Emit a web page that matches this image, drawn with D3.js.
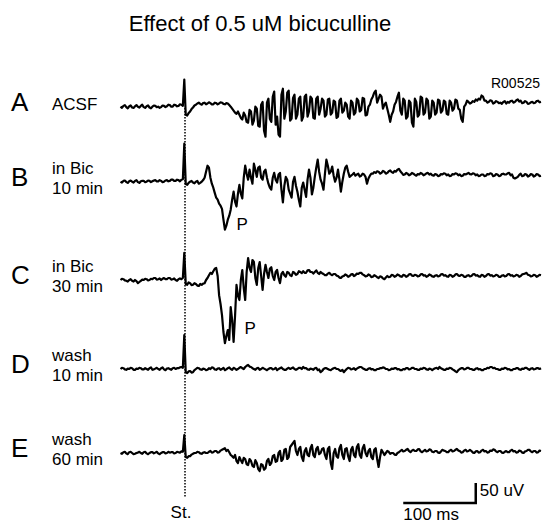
<!DOCTYPE html>
<html>
<head>
<meta charset="utf-8">
<script src="https://cdn.jsdelivr.net/npm/d3@7"></script>
<style>
  body { margin: 0; background: #fff; }
  svg { display: block; font-family: "Liberation Sans", Arial, sans-serif; }
</style>
</head>
<body>
<svg id="chart" width="542" height="530"></svg>
<script>
"use strict"

// sweep sampling (ms, stimulus at 0)
var sampleStart = -88,
    sampleStep = 2,
    sampleCount = 291;

var traceNames = ["A", "B", "C", "D", "E"];
var traceLabels = [["ACSF"], ["in Bic", "10 min"], ["in Bic", "30 min"], ["wash", "10 min"], ["wash", "60 min"]];

// field potentials, uV relative to pre-stimulus level
var traceA = [
    0, -3, 2, 4, -1, -4, 1, 3, -2, -3,
    1, 4, 0, -2, 2, 5, -1, -3, 1, 3,
    -2, -4, 0, 3, 2, -1, 0, -3, -1, 3,
    2, -1, 1, 5, 4, 0, 0, 5, 4, 1,
    2, 6, 5, 2, 68, -20, -22, -16, -12, -6,
    -2, 3, 5, 8, 10, 7, 5, 9, 10, 6,
    8, 11, 9, 6, 6, 10, 9, 6, 8, 11,
    10, 7, 6, 9, 8, 4, 0, -5, -10, -15,
    -18, -12, -20, -28, -32, -15, -22, -38, -40, -8,
    -12, -45, -35, 0, -5, -48, -50, 5, 12, -60,
    -75, 10, 20, -30, -38, 25, 38, -45, -25, -70,
    -75, 30, 45, -30, -12, 35, 40, -35, -30, 22,
    30, -30, -20, 20, 25, -35, -25, 25, 30, -25,
    -12, 25, 20, -28, -30, 20, 25, -20, -5, 20,
    15, -25, -20, 18, 20, -20, -15, 15, 12, -28,
    -25, 15, 20, -15, -10, 10, 5, -25, -30, 15,
    10, -20, -15, 20, 15, -12, -8, 22, 20, -22,
    -20, 0, 5, 18, 25, 35, 40, 10, 20, 30,
    25, -5, 5, 10, -5, -20, -38, -20, -12, 5,
    12, 25, 35, -10, -20, 20, 15, -30, -25, 15,
    10, -40, -50, 20, 12, -25, -20, 25, 22, -20,
    -15, 20, 15, -30, -25, 15, 10, -20, -15, 18,
    15, -15, -10, 15, 12, -18, -20, 15, 10, -10,
    -5, 18, 15, -5, -8, -30, -38, 0, 5, 15,
    12, 8, 10, 14, 12, 18, 15, 20, 18, 28,
    25, 15, 15, 10, 12, 16, 15, 8, 10, 14,
    12, 9, 10, 7, 12, 14, 8, 12, 10, 14,
    15, 10, 12, 16, 18, 13, 15, 9, 10, 14,
    12, 7, 8, 11, 12, 9, 10, 14, 15, 11,
    12];

var traceB = [
    0, -2, 2, 3, -1, -3, 1, 3, 0, -2,
    2, 4, -1, -3, 1, 2, 2, -1, 0, 3,
    2, -1, 1, 3, 4, 1, 1, 4, 2, -1,
    0, 3, 4, 1, 2, 5, 5, 2, 2, 5,
    4, 1, 5, 6, 95, -6, -8, -3, 0, 2,
    -2, -4, 0, 2, -5, -3, 0, 4, 10, 25,
    40, 35, 10, -5, -15, -28, -40, -45, -55, -60,
    -68, -95, -120, -110, -95, -85, -70, -45, -25, -50,
    -62, -30, -8, -30, -42, 10, 40, 20, 5, 30,
    10, -5, 45, 30, 12, 35, 38, 10, 5, 25,
    30, 10, -5, -15, -20, 10, 22, 5, -2, 18,
    22, -20, -52, -10, 12, 5, -20, -30, -40, 0,
    12, -10, -25, -45, -62, -15, -2, -20, -38, 5,
    30, 10, -32, -15, 12, 35, 55, 25, 5, -5,
    -20, 20, 55, 40, 20, 25, 38, 15, 0, 10,
    30, 5, -25, 0, 20, 35, 40, 25, 12, 15,
    18, 22, 15, 18, 20, 13, 15, 20, 18, 12,
    -5, 8, 15, 20, 20, 24, 22, 26, 25, 20,
    22, 27, 25, 20, 22, 26, 28, 24, 22, 27,
    25, 30, 32, 26, 22, 17, 18, 22, 20, 16,
    18, 22, 20, 17, 15, 19, 18, 22, 20, 16,
    18, 21, 22, 18, 20, 16, 15, 19, 18, 14,
    15, 19, 18, 21, 20, 16, 18, 14, 15, 19,
    18, 21, 20, 16, 18, 14, 15, 19, 18, 20,
    22, 19, 18, 21, 20, 16, 18, 14, 15, 18,
    18, 14, 15, 19, 18, 21, 20, 14, 15, 19,
    18, 14, 15, 19, 20, 18, 18, 21, 22, 16,
    18, 10, 8, 10, 12, 17, 20, 14, 15, 19,
    18, 13, 15, 19, 18, 13, 15, 19, 18, 14,
    15];

var traceC = [
    0, 3, 2, -1, -2, -4, 0, 2, -2, -4,
    0, -3, -8, -5, -2, 1, 0, 3, 2, -1,
    0, 3, 2, 5, 5, 1, 2, 4, 0, 3,
    5, 2, 2, 5, 5, 1, 2, 4, 0, -2,
    2, 4, 2, 5, 68, -10, -12, -6, -8, -13,
    -12, -8, -10, -14, -15, -10, -12, -9, -8, 0,
    5, 12, 18, 15, 22, 28, 30, 10, -38, -60,
    -88, -130, -158, -140, -125, -150, -68, -100, -155, -90,
    -12, -40, -50, 0, 25, -20, -50, 20, 55, 30,
    20, 50, 45, 5, -12, 30, 45, 10, -25, 15,
    38, 20, 5, 28, 32, 10, 0, 20, 25, 5,
    -8, 15, 20, 12, 8, 20, 18, 12, 10, 20,
    18, 13, 15, 22, 20, 17, 22, 18, 18, 24,
    25, 20, 20, 16, 20, 24, 18, 15, 20, 17,
    15, 12, 12, 16, 18, 14, 12, 15, 15, 11,
    10, 6, 5, 9, 10, 14, 12, 8, 10, 14,
    15, 10, 12, 16, 15, 18, 18, 14, 12, 9,
    10, 14, 12, 7, 8, 12, 10, 7, 5, 9,
    8, 4, 2, 6, 10, 7, 8, 13, 12, 8,
    10, 14, 12, 9, 8, 13, 12, 8, 10, 14,
    15, 11, 10, 13, 12, 9, 10, 14, 15, 11,
    12, 8, 10, 14, 12, 9, 8, 11, 12, 9,
    10, 14, 15, 11, 12, 9, 8, 13, 12, 8,
    10, 14, 15, 11, 10, 13, 12, 8, 8, 11,
    12, 9, 10, 14, 15, 11, 12, 9, 8, 13,
    12, 8, 10, 14, 15, 11, 12, 9, 10, 13,
    12, 8, 8, 11, 12, 9, 10, 14, 15, 11,
    12, 9, 10, 13, 12, 8, 10, 14, 15, 16,
    18, 13, 12, 9, 10, 13, 12, 8, 10, 13,
    12];

var traceD = [
    0, 3, 2, -1, -2, 1, 0, 3, 2, -2,
    -2, 1, 0, 3, 2, -1, -1, 2, 0, -2,
    2, 4, -2, -1, 1, 3, 0, -2, 2, 4,
    -1, -3, 1, 2, 0, -2, 2, 3, 0, 2,
    2, 4, 5, 3, 85, -8, -10, -6, -5, -9,
    -8, -3, 0, 3, 2, -1, -2, 1, 0, -3,
    -2, 2, 0, 4, 3, -1, -2, 1, 2, -2,
    0, 3, -3, -1, 2, 4, 0, -2, 3, 1,
    -2, 0, 3, 5, 2, 0, 5, 8, 10, 6,
    5, 2, 0, -2, 2, 3, -2, 0, 3, 1,
    -1, -3, 0, 2, 2, -1, 0, 3, -3, 0,
    2, 4, 0, -2, -2, 1, 3, 0, 2, 4,
    0, -2, 0, 3, 3, 0, 5, 2, 2, -1,
    -2, 1, 0, -2, 2, 3, -3, -1, -8, -5,
    0, 2, 2, 0, -2, -3, 0, 2, 3, 0,
    0, -3, -5, -2, -8, -4, 0, 3, 2, -1,
    0, 2, -2, 1, 3, 5, 5, 2, 0, -2,
    -2, 1, 2, -1, 0, -3, -3, 0, 0, 2,
    2, 4, 3, 0, 0, -3, -2, 1, 0, 2,
    2, -1, 0, -3, -3, 0, -1, 2, 2, -1,
    0, 3, 3, 0, 0, -2, -2, 1, 0, 3,
    2, -1, -2, 1, 0, -3, 0, 2, 3, 0,
    5, 2, 0, -2, -2, 1, 0, 3, 2, -1,
    -3, -6, -8, -3, 0, 2, 2, -1, 0, 3,
    3, 0, 0, -2, -2, 1, 2, -1, 0, -3,
    -3, 0, 0, 3, 2, 5, 5, 2, 3, 0,
    0, -2, -2, 1, 0, 3, 2, -1, 0, -3,
    -3, 0, 0, 2, 2, -1, -2, 1, 0, 3,
    3, 0, -2, 1, 2, -1, 0, 2, 2, 0,
    2];

var traceE = [
    0, -2, 2, 3, -1, -3, 2, 3, 0, -3,
    -2, 0, 1, 3, 0, -2, 2, 3, -1, -3,
    0, 2, 2, -1, 1, 3, -1, -3, 0, 2,
    2, -1, 0, 3, 1, 2, 2, -1, 0, 3,
    2, 1, 4, 3, 45, -10, -12, -8, -8, -4,
    -2, 0, 0, 3, 2, -1, -2, 1, 2, 0,
    0, 3, 5, 1, 2, 5, 5, 1, 2, 6,
    8, 10, 12, 5, 8, 2, -5, -8, -12, -5,
    -20, -25, -10, -18, -25, -12, -15, -28, -30, -15,
    -20, -32, -35, -18, -25, -40, -45, -28, -30, -42,
    -38, -20, -15, -30, -25, -8, -5, -22, -20, 0,
    5, -20, -15, 8, 10, -15, -10, 15, 20, 25,
    30, 5, -5, 10, 15, -10, -20, 5, 12, -5,
    -8, 12, 20, -5, -10, 10, 15, -3, 0, 10,
    12, -5, -15, 10, 15, -25, -40, 0, 10, -8,
    -12, 12, 20, -5, -15, 10, 12, -8, -20, 8,
    15, -5, -10, 15, 22, -5, -12, 12, 20, 0,
    -8, 5, 10, -10, -15, 8, 12, -15, -35, -10,
    8, 2, -5, 0, 5, 3, -2, 0, 0, -4,
    -5, 0, 2, 5, 8, 4, 5, 8, 10, 5,
    2, 6, 8, 5, 5, 9, 10, 4, 2, 5,
    8, 4, 5, 9, 8, 3, 2, 5, 5, 1,
    0, 4, 8, 6, 5, 2, 2, 6, 8, 4,
    5, 8, 10, 6, 5, 1, 2, 6, 8, 4,
    5, 8, 5, 1, 0, 4, 5, 1, 2, 6,
    8, 4, 5, 1, 2, 6, 5, 9, 8, 4,
    2, 5, 5, 1, 0, 3, 5, 2, 2, 6,
    8, 4, 5, 1, 2, 6, 5, 1, 0, 4,
    5, 8, 8, 4, 2, 5, 5, 1, 2, 6,
    5];

var traces = [traceA, traceB, traceC, traceD, traceE];

// calibration
var scaleBarTime = 100,   // ms
    scaleBarVolt = 50;    // uV
var peakLabels = [{ trace: 1, t: 72, v: -100, text: "P" }, { trace: 2, t: 83, v: -115, text: "P" }];

var _chart = {
    baselines: [106.7, 181.7, 280, 369, 453]
};

_chart.xScale = d3.scaleLinear()
    .domain([sampleStart, sampleStart + sampleStep * (sampleCount - 1)])
    .range([120.5, 541]);

// 50 uV = 20 px
_chart.vScale = d3.scaleLinear()
    .domain([0, 50])
    .range([0, -20]);

var svg = d3.select("#chart");

svg.append("rect")
    .attr("width", 542)
    .attr("height", 530)
    .attr("fill", "#fff");

svg.append("text")
    .attr("x", 260)
    .attr("y", 31)
    .attr("text-anchor", "middle")
    .style("font-size", "22px")
    .text("Effect of 0.5 uM bicuculline");

svg.append("text")
    .attr("x", 540)
    .attr("y", 88)
    .attr("text-anchor", "end")
    .style("font-size", "14px")
    .text("R00525");

// stimulus marker
var stimX = _chart.xScale(0) + 0.7;
svg.append("line")
    .attr("x1", stimX)
    .attr("x2", stimX)
    .attr("y1", 108)
    .attr("y2", 497)
    .attr("stroke", "#000")
    .attr("stroke-width", 1.5)
    .attr("stroke-dasharray", "1.5,1.5");

svg.append("text")
    .attr("x", stimX - 4)
    .attr("y", 518)
    .attr("text-anchor", "middle")
    .style("font-size", "17px")
    .text("St.");

_chart.line = function(base) {
    return d3.line()
        .x(function(d, i) { return _chart.xScale(sampleStart + sampleStep * i); })
        .y(function(d) { return base + _chart.vScale(d); });
}

traces.forEach(function(values, k) {
    var base = _chart.baselines[k];
    var g = svg.append("g").attr("class", "trace");

    g.append("path")
        .datum(values)
        .attr("d", _chart.line(base))
        .attr("fill", "none")
        .attr("stroke", "#000")
        .attr("stroke-width", 2.2)
        .attr("stroke-linejoin", "round");

    g.append("text")
        .attr("x", 11)
        .attr("y", base + 4)
        .style("font-size", "26px")
        .text(traceNames[k]);

    var lines = traceLabels[k];
    lines.forEach(function(s, j) {
        var y = lines.length == 1 ? base + 3 : base - 8 + j * 20;
        g.append("text")
            .attr("x", 52)
            .attr("y", y)
            .style("font-size", "17px")
            .text(s);
    });
});

peakLabels.forEach(function(p) {
    svg.append("text")
        .attr("x", _chart.xScale(p.t))
        .attr("y", _chart.baselines[p.trace] + _chart.vScale(p.v) + 8)
        .style("font-size", "17px")
        .text(p.text);
});

// calibration bars
var barX0 = _chart.xScale(302),
    barX1 = _chart.xScale(302 + scaleBarTime),
    barY = 503;
svg.append("path")
    .attr("d", "M" + barX0 + "," + barY + "H" + barX1 + "V" + (barY + _chart.vScale(scaleBarVolt)))
    .attr("fill", "none")
    .attr("stroke", "#000")
    .attr("stroke-width", 2.5);

svg.append("text")
    .attr("x", barX1 + 4)
    .attr("y", 496)
    .style("font-size", "17px")
    .text(scaleBarVolt + " uV");

svg.append("text")
    .attr("x", barX0)
    .attr("y", 520)
    .style("font-size", "17px")
    .text(scaleBarTime + " ms");
</script>
</body>
</html>
